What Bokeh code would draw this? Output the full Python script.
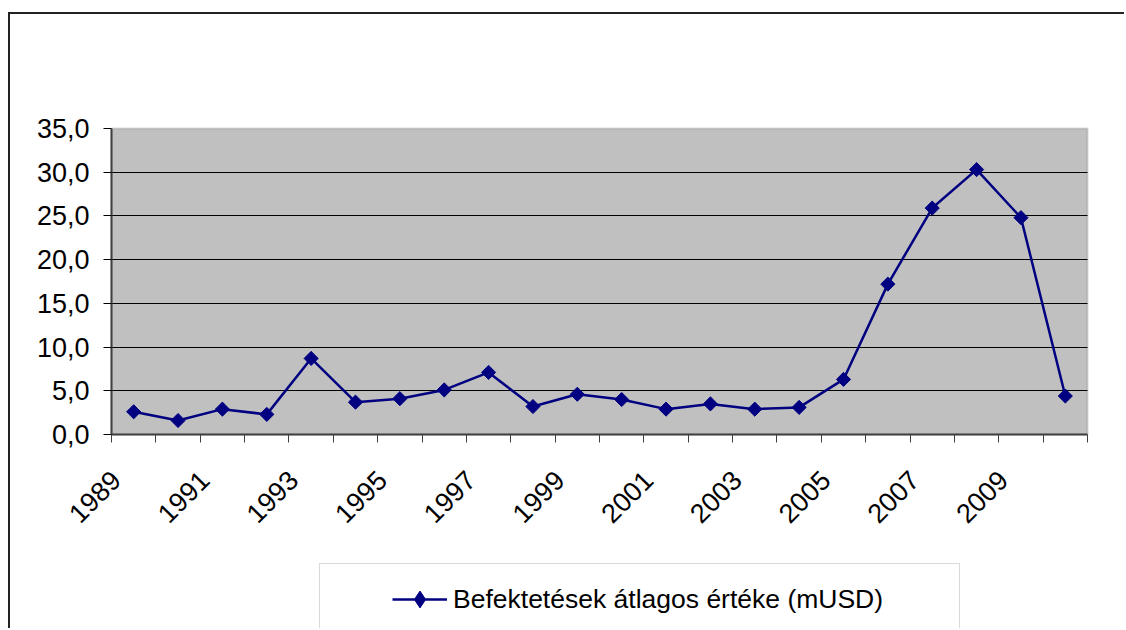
import math
from bokeh.plotting import figure
from bokeh.models import (Range1d, FixedTicker, BoxAnnotation, Legend, LegendItem,
                          ColumnDataSource)
from bokeh.embed import file_html
from bokeh.resources import INLINE

# ---- data ----
years = ["1989", "1990", "1991", "1992", "1993", "1994", "1995", "1996", "1997", "1998",
         "1999", "2000", "2001", "2002", "2003", "2004", "2005", "2006", "2007", "2008",
         "2009", "2010"]
values = [2.6, 1.6, 2.9, 2.3, 8.7, 3.7, 4.1, 5.1, 7.1, 3.2,
          4.6, 4.0, 2.9, 3.5, 2.9, 3.1, 6.3, 17.2, 25.9, 30.3,
          24.8, 4.4]
y_ticks = [0, 5, 10, 15, 20, 25, 30, 35]
y_tick_labels = ["0,0", "5,0", "10,0", "15,0", "20,0", "25,0", "30,0", "35,0"]
series_name = "Befektetések átlagos értéke (mUSD)"

N = len(years)
x = list(range(1, N + 1))
src = ColumnDataSource(dict(x=x, y=values))

# ---- layout (canvas pixels) ----
W, H = 1116, 616
TOP, LEFT, PLOT_W, PLOT_H = 114, 101, 976, 306
Y_MAX = y_ticks[-1]
X_LO, X_HI = 0.5, N + 0.5
# the frame covers the whole canvas; axes are pinned to the plot area so that
# labels and the legend outside the plot area are not clipped
u = PLOT_W / (X_HI - X_LO)
v = PLOT_H / Y_MAX
x_range = Range1d(X_LO - LEFT / u, X_HI + (W - LEFT - PLOT_W) / u)
y_range = Range1d(-(H - TOP - PLOT_H) / v, Y_MAX + TOP / v)

FONT = "Liberation Sans"
NAVY = "#000080"

p = figure(width=W, height=H, output_backend="svg", toolbar_location=None,
           x_range=x_range, y_range=y_range,
           min_border_left=0, min_border_right=0, min_border_top=0,
           min_border_bottom=0)
p.title.visible = False
# outer chart frame (left and top edges visible, the rest runs off the page)
p.styles = {"margin-left": "8px", "margin-top": "12px",
            "border-left": "2px solid #222222", "border-top": "2px solid #222222"}

p.background_fill_color = "white"
p.border_fill_color = "white"
p.outline_line_color = None

# grey plot area with grey border
p.add_layout(BoxAnnotation(left=X_LO, right=X_HI, bottom=0, top=Y_MAX,
                           fill_color="#C0C0C0", fill_alpha=1,
                           line_color="#808080", line_width=2, level="image"))

# horizontal grid lines, limited to the plot area
p.xgrid.visible = False
g = p.ygrid[0]
g.ticker = FixedTicker(ticks=y_ticks[1:-1])
g.grid_line_color = "black"
g.grid_line_width = 1
if "cross_bounds" in g.properties():
    g.cross_bounds = (X_LO, X_HI)
else:
    g.visible = False
    gy = y_ticks[1:-1]
    p.segment(x0=[X_LO] * len(gy), x1=[X_HI] * len(gy), y0=gy, y1=gy,
              line_color="black", line_width=1, level="underlay")

# y axis pinned at the left edge of the plot area
p.yaxis.fixed_location = X_LO
p.yaxis.ticker = FixedTicker(ticks=y_ticks)
p.yaxis.bounds = (0, Y_MAX)
p.yaxis.major_label_overrides = {t: lab for t, lab in zip(y_ticks, y_tick_labels)}
p.yaxis.major_tick_out = 8
p.yaxis.major_tick_in = 0
p.yaxis.major_tick_line_color = "black"
p.yaxis.minor_tick_line_color = None
p.yaxis.major_label_standoff = 14
p.yaxis.axis_line_color = "#404040"
p.yaxis.axis_line_width = 2
p.yaxis.major_label_text_font = FONT
p.yaxis.major_label_text_font_size = "27px"
p.yaxis.major_label_text_color = "black"

# x axis pinned at y = 0: labels every second year, tick marks between categories
label_shift = 0.40
lab_idx = list(range(0, N, 2))
lab_pos = [x[i] - label_shift for i in lab_idx]
p.xaxis.fixed_location = 0
p.xaxis.bounds = (X_LO, X_HI)
p.xaxis.ticker = FixedTicker(ticks=lab_pos,
                             minor_ticks=[i + 0.5 for i in range(N + 1)])
p.xaxis.major_label_overrides = {pos: years[i] for pos, i in zip(lab_pos, lab_idx)}
p.xaxis.major_label_orientation = math.pi / 4
p.xaxis.major_tick_line_color = None
p.xaxis.major_tick_out = 8
p.xaxis.major_tick_in = 0
p.xaxis.minor_tick_out = 8
p.xaxis.minor_tick_in = 0
p.xaxis.minor_tick_line_color = "#404040"
p.xaxis.major_label_standoff = 33
p.xaxis.axis_line_color = "#404040"
p.xaxis.axis_line_width = 2
p.xaxis.major_label_text_font = FONT
p.xaxis.major_label_text_font_size = "27px"
p.xaxis.major_label_text_color = "black"

# series
r_line = p.line("x", "y", source=src, line_color=NAVY, line_width=2.5)
# diamond markers (drawn under the rotated squares; they supply the legend symbol)
r_dia = p.scatter("x", "y", source=src, marker="diamond", size=11,
                  fill_color=NAVY, line_color=NAVY)
r_pts = p.scatter("x", "y", source=src, marker="square", angle=math.pi / 4, size=10,
                  fill_color=NAVY, line_color=NAVY, line_width=1)

# legend and its box
legend = Legend(items=[LegendItem(label=series_name, renderers=[r_line, r_dia])],
                location=(382, 10), orientation="vertical",
                padding=0, margin=0, spacing=0,
                glyph_width=55, glyph_height=42, label_height=42, label_standoff=6,
                label_text_font=FONT, label_text_font_size="26.5px",
                label_text_color="black",
                border_line_color=None, background_fill_alpha=0)
p.add_layout(legend, "center")
p.add_layout(BoxAnnotation(left=307, right=947, top=547, bottom=H + 40,
                           left_units="canvas", right_units="canvas",
                           top_units="canvas", bottom_units="canvas",
                           fill_color="white", fill_alpha=1,
                           line_color="#808080", line_width=1, level="underlay"))

open("out.html", "w").write(file_html(p, INLINE))
